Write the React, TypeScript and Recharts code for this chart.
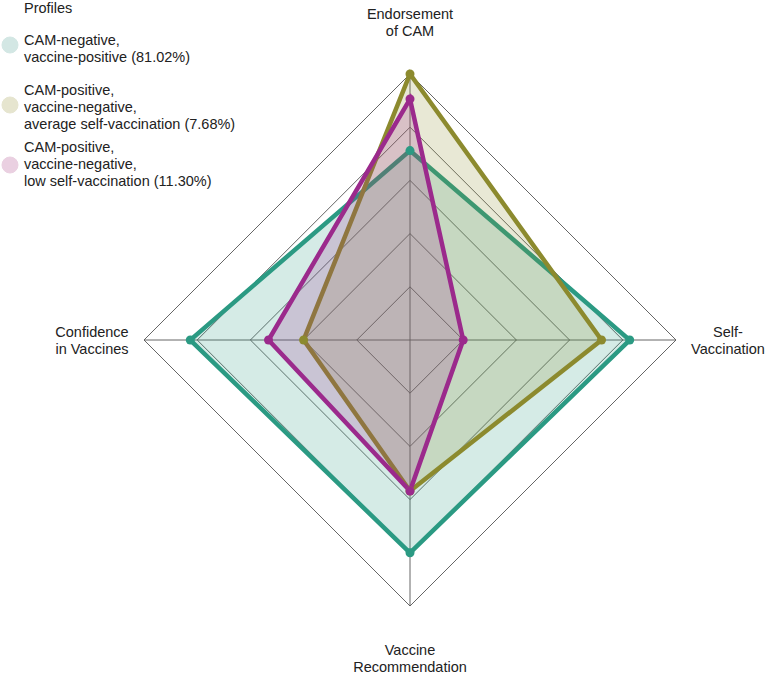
import React from 'react';
import { RadarChart, Radar, PolarGrid, PolarAngleAxis, PolarRadiusAxis } from 'recharts';

// axes, clockwise from the top
const dimensions = ['Endorsement of CAM', 'Self-Vaccination', 'Vaccine Recommendation', 'Confidence in Vaccines'];
const dimensionLines = [
  ['Endorsement', 'of CAM'],
  ['Self-', 'Vaccination'],
  ['Vaccine', 'Recommendation'],
  ['Confidence', 'in Vaccines'],
];

const camNegVaccPos = [3.56, 4.13, 4.0, 4.13];
const camPosAvgSelf = [5.0, 3.6, 2.84, 2.0];
const camPosLowSelf = [4.53, 1.0, 2.84, 2.66];

const profiles = [
  { key: 'p1', color: '#2b9a83', legend: '#d3e7e4', lines: ['CAM-negative,', 'vaccine-positive (81.02%)'] },
  { key: 'p2', color: '#8c8a2e', legend: '#e6e5cf', lines: ['CAM-positive,', 'vaccine-negative,', 'average self-vaccination (7.68%)'] },
  { key: 'p3', color: '#9b2a8c', legend: '#ead0e1', lines: ['CAM-positive,', 'vaccine-negative,', 'low self-vaccination (11.30%)'] },
];

const data = dimensions.map((d, i) => ({
  dim: d,
  p1: camNegVaccPos[i],
  p2: camPosAvgSelf[i],
  p3: camPosLowSelf[i],
}));

const W = 768;
const H = 675;
const CX = 410;
const CY = 340;
const R = 266;
const FONT = '"Liberation Sans", Arial, sans-serif';

const AxisTick = (props: any) => {
  const { x, y, payload } = props;
  const dx = x - CX;
  const dy = y - CY;
  const len = Math.sqrt(dx * dx + dy * dy) || 1;
  const px = CX + (dx / len) * (R + 52);
  const py = CY + (dy / len) * (R + 52);
  const lines = dimensionLines[dimensions.indexOf(payload.value)] || [payload.value];
  return (
    <text x={px} y={py} textAnchor="middle" fontFamily={FONT} fontSize={14.5} fill="#222">
      <tspan x={px} y={py - 3}>{lines[0]}</tspan>
      <tspan x={px} y={py + 14}>{lines[1]}</tspan>
    </text>
  );
};

export default function App() {
  // legend rows: baseline of each item's first line and circle centre
  const legendTops = [45, 95, 152];
  const circleYs = [45, 105, 165];

  return (
    <div style={{ position: 'absolute', left: 0, top: 0, width: W, height: H, background: '#fff' }}>
      <RadarChart width={W} height={H} data={data} cx={CX} cy={CY} outerRadius={R} margin={{ top: 0, right: 0, bottom: 0, left: 0 }}>
        <PolarGrid gridType="polygon" stroke="#555" strokeWidth={0.9} />
        <PolarAngleAxis dataKey="dim" tick={AxisTick} tickLine={false} axisLine={false} />
        <PolarRadiusAxis domain={[0, 5]} tickCount={6} tick={false} axisLine={false} />
        {profiles.map((p) => (
          <Radar
            key={p.key}
            dataKey={p.key}
            stroke={p.color}
            strokeWidth={4.5}
            fill={p.color}
            fillOpacity={0.2}
            dot={{ r: 4.5, fill: p.color, stroke: p.color, strokeWidth: 0, fillOpacity: 1 }}
            isAnimationActive={false}
          />
        ))}
      </RadarChart>
      <svg width={W} height={220} style={{ position: 'absolute', left: 0, top: 0, pointerEvents: 'none' }}>
        <text x={24} y={12.5} fontFamily={FONT} fontSize={14.5} fill="#222">Profiles</text>
        {profiles.map((p, i) => (
          <g key={p.key}>
            <circle cx={10} cy={circleYs[i]} r={8} fill={p.legend} stroke={p.legend} />
            <text fontFamily={FONT} fontSize={14.5} fill="#222">
              {p.lines.map((l, j) => (
                <tspan key={j} x={24} y={legendTops[i] + j * 17}>{l}</tspan>
              ))}
            </text>
          </g>
        ))}
      </svg>
    </div>
  );
}
